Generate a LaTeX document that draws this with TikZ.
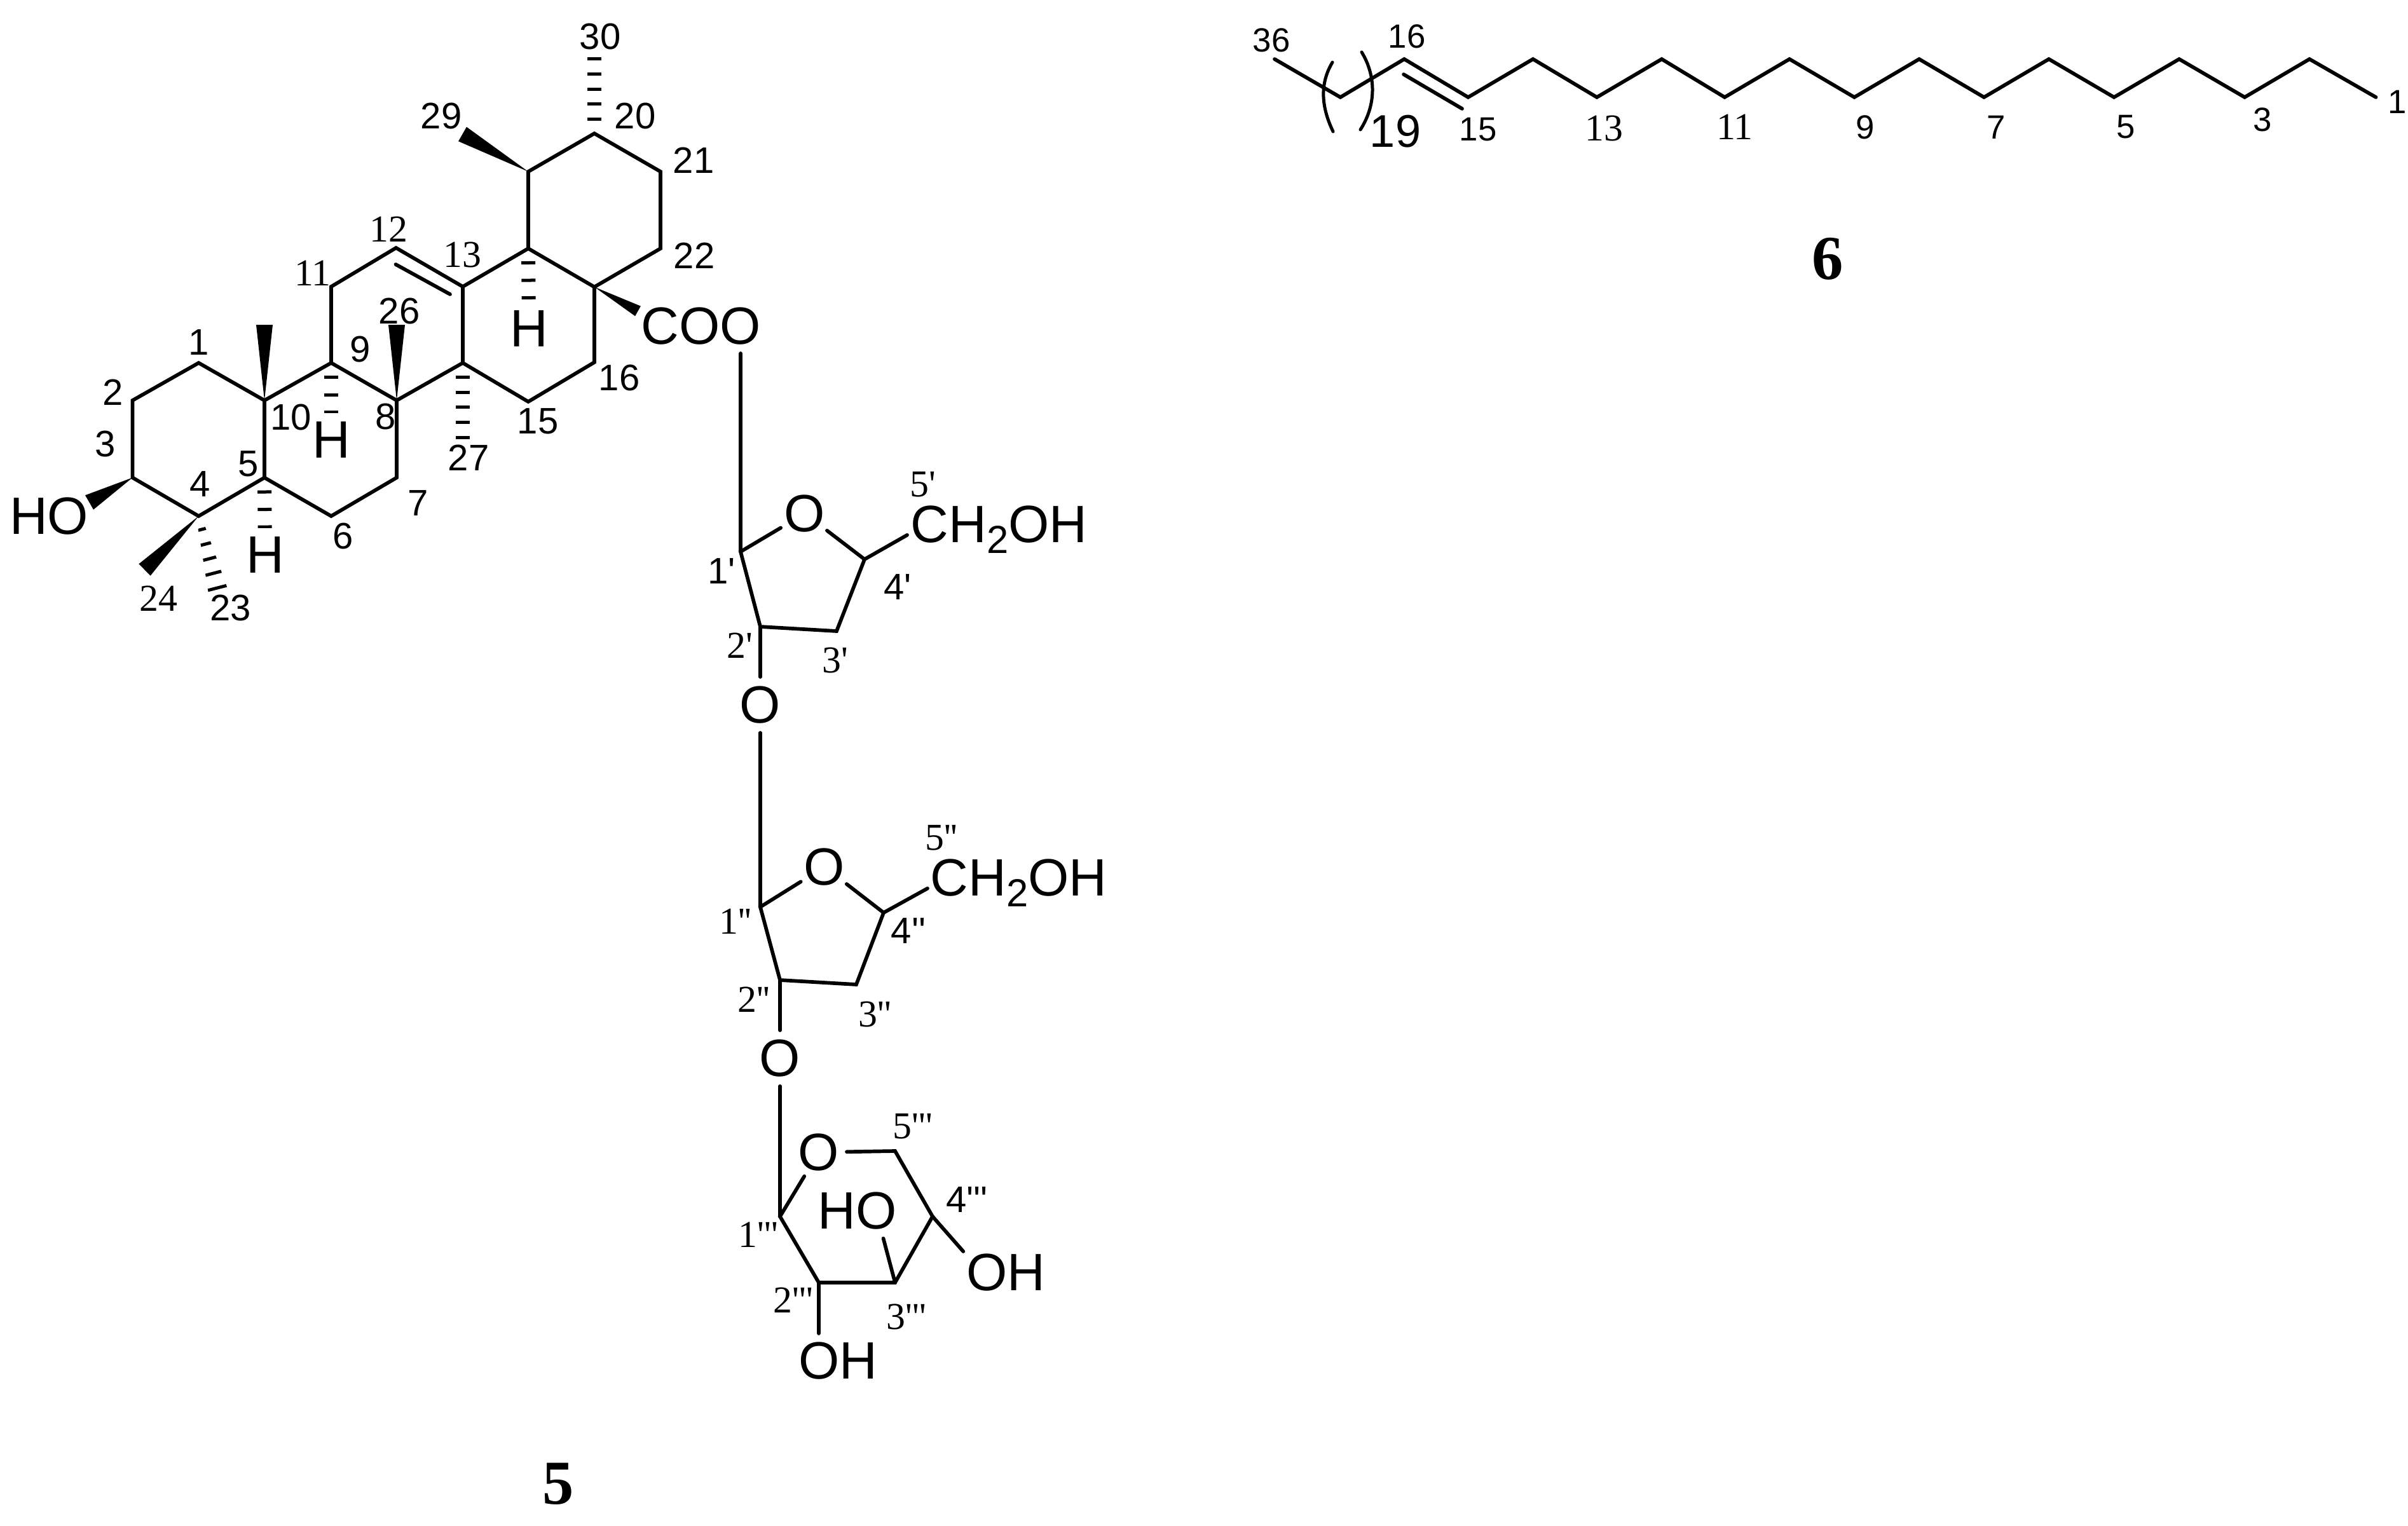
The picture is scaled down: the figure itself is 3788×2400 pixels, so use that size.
\documentclass[tikz,border=0pt]{standalone}
\usepackage{fontspec}
\setmainfont{Liberation Sans}
\newfontfamily\timesnum{Liberation Serif}
\usetikzlibrary{calc}
\newcommand{\prm}{\textquotesingle}
\newcommand{\subtwo}{\raisebox{-.21em}{\fontsize{17.5pt}{17.5pt}\selectfont 2}}

\begin{document}
\begin{tikzpicture}[x=.01cm,y=-.01cm,
    bond/.style={line width=.057cm,line cap=round},
    hashbond/.style={line width=.22cm,dash pattern=on .05cm off #1,shorten <=.2cm},
    wedgebond/.style={fill=black,draw=none,to path={
      -- ($(\tikztotarget)!#1!90:(\tikztostart)$)
      -- ($(\tikztotarget)!#1!-90:(\tikztostart)$) -- cycle}},
    wedgebond/.default=.13cm,
    ringO/.style={circle,minimum size=.84cm,inner sep=0pt,font=\fontsize{23.5pt}{23.5pt}\selectfont},
    atomlab/.style={inner sep=.13cm,font=\fontsize{23.5pt}{23.5pt}\selectfont},
    sidechain/.style={inner sep=0pt,anchor=base west,font=\fontsize{23.5pt}{23.5pt}\selectfont},
    numsans/.style={inner sep=0pt,font=\fontsize{16.5pt}{16.5pt}\selectfont},
    numserif/.style={inner sep=0pt,font=\timesnum\fontsize{17pt}{17pt}\selectfont},
    chainsans/.style={inner sep=0pt,font=\fontsize{15pt}{15pt}\selectfont},
    title/.style={inner sep=0pt,font=\timesnum\bfseries\fontsize{28pt}{28pt}\selectfont}]

\useasboundingbox (0,0) rectangle (3788,2400);

% triterpene skeleton
\coordinate (c1) at (312.5,571);
\coordinate (c2) at (208.5,630);
\coordinate (c3) at (208.5,751.5);
\coordinate (c4) at (312.5,812);
\coordinate (c5) at (416,751.5);
\coordinate (c6) at (521,812);
\coordinate (c7) at (624,751.5);
\coordinate (c8) at (624,630);
\coordinate (c9) at (521,571);
\coordinate (c10) at (416,630);
\coordinate (c11) at (521,451);
\coordinate (c12) at (623,390);
\coordinate (c13) at (728,451);
\coordinate (c14) at (728,571);
\coordinate (c15) at (831,632);
\coordinate (c16) at (935,570);
\coordinate (c17) at (935,451.5);
\coordinate (c18) at (831,391);
\coordinate (c19) at (831,270);
\coordinate (c20) at (935,210);
\coordinate (c21) at (1039,270);
\coordinate (c22) at (1039,391);
\coordinate (dba) at (622.5,416);
\coordinate (dbb) at (708,463);

\coordinate (m23) at (343.5,932);
\coordinate (a23) at ($(c4)!-.34!(m23)$);
\coordinate (m24) at (227.5,896.5);
\coordinate (m25) at (416,511);
\coordinate (m26) at (624,511);
\coordinate (m27) at (728,692);
\coordinate (m29) at (727.5,211);
\coordinate (m30) at (935,90);
\coordinate (mho) at (140.5,790.5);
\coordinate (mco) at (1003.5,489.5);

\draw[bond] (c1) -- (c2) -- (c3) -- (c4) -- (c5) -- (c10) -- cycle;
\draw[bond] (c5) -- (c6) -- (c7) -- (c8) -- (c9) -- (c10);
\draw[bond] (c9) -- (c11) -- (c12) -- (c13) -- (c14) -- (c8);
\draw[bond] (c13) -- (c18) -- (c17) -- (c16) -- (c15) -- (c14);
\draw[bond] (c18) -- (c19) -- (c20) -- (c21) -- (c22) -- (c17);
\draw[bond] (dba) -- (dbb);

\draw[wedgebond] (c3) to (mho);
\draw[wedgebond] (c4) to (m24);
\draw[wedgebond] (c10) to (m25);
\draw[wedgebond] (c8) to (m26);
\draw[wedgebond] (c19) to (m29);
\draw[wedgebond=.09cm] (c17) to (mco);

\node[atomlab] (ho) at (77,812.5) {HO};
\node[atomlab] (h5) at (417,873) {H};
\node[atomlab] (h9) at (521,692) {H};
\node[atomlab] (h18) at (832,517) {H};
\node[atomlab] (coo) at (1103,513) {COO};

\draw[hashbond=.225cm] (c5) -- (h5);
\draw[hashbond=.225cm] (c9) -- (h9);
\draw[hashbond=.225cm] (c18) -- (h18);
\draw[hashbond=.187cm] (c14) -- (m27);
\draw[hashbond=.187cm] (c20) -- (m30);

\begin{scope}
\clip (a23) -- ($(m23)!.157cm!90:(c4)$) -- ($(m23)!.157cm!-90:(c4)$) -- cycle;
\draw[line width=.32cm,dash pattern=on .05cm off .188cm,shorten <=.19cm] (c4) -- (m23);
\end{scope}

\node[numsans] (l1) at (313,539) {1};
\node[numsans] (l2) at (178,617) {2};
\node[numsans] (l3) at (166,699) {3};
\node[numsans] (l4) at (315,762) {4};
\node[numsans] (l5) at (391,730) {5};
\node[numsans] (l6) at (540,844) {6};
\node[numsans] (l7) at (658,792) {7};
\node[numsans] (l8) at (607,656) {8};
\node[numsans] (l9) at (567,550) {9};
\node[numsans] (l10) at (458,657) {10};
\node[numserif] (l11) at (492,430) {11};
\node[numserif] (l12) at (611,361) {12};
\node[numserif] (l13) at (727,400.5) {13};
\node[numsans] (l15) at (846,663) {15};
\node[numsans] (l16) at (974,595) {16};
\node[numsans] (l20) at (999,183) {20};
\node[numsans] (l21) at (1091,252.5) {21};
\node[numsans] (l22) at (1092,402) {22};
\node[numsans] (l23) at (363,957) {23};
\node[numserif] (l24) at (249,942) {24};
\node[numsans] (l26) at (628,490) {26};
\node[numsans] (l27) at (737,720) {27};
\node[numsans] (l29) at (694,183) {29};
\node[numsans] (l30) at (944,58) {30};

% sugar chain
\coordinate (c1a) at (1165,868);
\coordinate (c2a) at (1196,986);
\coordinate (c3a) at (1316,993);
\coordinate (c4a) at (1360,880);
\coordinate (c1b) at (1196,1427);
\coordinate (c2b) at (1227,1542);
\coordinate (c3b) at (1347,1549);
\coordinate (c4b) at (1390,1436);
\coordinate (c1c) at (1227,1914);
\coordinate (c2c) at (1288,2018);
\coordinate (c3c) at (1408,2018);
\coordinate (c4c) at (1467,1914);
\coordinate (c5c) at (1408,1811);

\node[ringO] (oa) at (1266,808) {O};
\node[ringO] (ob) at (1196,1109) {O};
\node[ringO] (oc) at (1297,1364) {O};
\node[ringO] (od) at (1227,1665) {O};
\node[ringO] (oe) at (1288,1813) {O};

\node[sidechain] (cha) at (1432,853) {CH\subtwo OH};
\node[sidechain] (chb) at (1463,1409) {CH\subtwo OH};
\node[atomlab] (ohb) at (1318,2141) {OH};
\node[atomlab] (ohc) at (1348.5,1905.5) {HO};
\node[atomlab] (ohd) at (1582,2002) {OH};

\draw[bond] ([xshift=.62cm]coo.south) -- (c1a);
\draw[bond] (oa) -- (c1a) -- (c2a) -- (c3a) -- (c4a) -- (oa);
\draw[bond] (c4a) -- ([xshift=-.05cm,yshift=-.09cm]cha.west);
\draw[bond] (c2a) -- (ob);
\draw[bond] (ob) -- (c1b);
\draw[bond] (oc) -- (c1b) -- (c2b) -- (c3b) -- (c4b) -- (oc);
\draw[bond] (c4b) -- ([xshift=-.04cm,yshift=-.09cm]chb.west);
\draw[bond] (c2b) -- (od);
\draw[bond] (od) -- (c1c);
\draw[bond] (oe) -- (c1c) -- (c2c) -- (c3c) -- (c4c) -- (c5c) -- (oe);
\draw[bond] (c2c) -- ([xshift=-.3cm]ohb.north);
\draw[bond] (c3c) -- ([xshift=.41cm]ohc.south);
\draw[bond] (c4c) -- ([xshift=.09cm,yshift=.33cm]ohd.west);

\node[numsans] (l1a) at (1135,899) {1\prm};
\node[numserif] (l2a) at (1164,1016) {2\prm};
\node[numserif] (l3a) at (1314,1039) {3\prm};
\node[numsans] (l4a) at (1412,924) {4\prm};
\node[numserif] (l5a) at (1451.5,762) {5\prm};
\node[numserif] (l1b) at (1157,1450) {1\prm\prm};
\node[numserif] (l2b) at (1186,1573) {2\prm\prm};
\node[numserif] (l3b) at (1376.5,1596) {3\prm\prm};
\node[numsans] (l4b) at (1429,1465) {4\prm\prm};
\node[numserif] (l5b) at (1481,1318) {5\prm\prm};
\node[numserif] (l1c) at (1193,1943) {1\prm\prm\prm};
\node[numserif] (l2c) at (1248,2046) {2\prm\prm\prm};
\node[numserif] (l3c) at (1426,2072) {3\prm\prm\prm};
\node[numsans] (l4c) at (1521,1888) {4\prm\prm\prm};
\node[numserif] (l5c) at (1436,1772) {5\prm\prm\prm};

\node[title] (five) at (878,2335) {5};

% fatty chain
\coordinate (s1) at (3737.5,153);
\coordinate (s2) at (3633,93);
\coordinate (s3) at (3531,153);
\coordinate (s4) at (3428,93);
\coordinate (s5) at (3325.5,153);
\coordinate (s6) at (3223,93);
\coordinate (s7) at (3121,153);
\coordinate (s8) at (3019,93);
\coordinate (s9) at (2917,153);
\coordinate (s10) at (2815,93);
\coordinate (s11) at (2713,153);
\coordinate (s12) at (2614,93);
\coordinate (s13) at (2512,153);
\coordinate (s14) at (2411.5,93);
\coordinate (s15) at (2309.5,153);
\coordinate (s16) at (2209,93);
\coordinate (srep) at (2108.5,153);
\coordinate (s36) at (2005,93);
\coordinate (dbc) at (2208,117);
\coordinate (dbd) at (2300,171);

\draw[bond] (s1) -- (s2) -- (s3) -- (s4) -- (s5) -- (s6) -- (s7) -- (s8) -- (s9) -- (s10) -- (s11) -- (s12) -- (s13) -- (s14) -- (s15) -- (s16) -- (srep) -- (s36);
\draw[bond] (dbc) -- (dbd);

\coordinate (bla) at (2096,98);
\coordinate (blb) at (2097,207);
\coordinate (bra) at (2142,82);
\coordinate (brb) at (2140,204);
\draw[bond,line width=.05cm] (bla) .. controls (2077,130) and (2077,165) .. (blb);
\draw[bond,line width=.05cm] (bra) .. controls (2165,120) and (2165,165) .. (brb);

\node[chainsans] (n36) at (2000,63) {36};
\node[chainsans] (n16) at (2213,57) {16};
\node[inner sep=0pt,font=\fontsize{20.5pt}{20.5pt}\selectfont] (n19) at (2195,207) {19};
\node[chainsans] (n15) at (2325,204) {15};
\node[numserif] (n13) at (2523,202) {13};
\node[numserif] (n11) at (2729,200) {11};
\node[chainsans] (n9) at (2934,200) {9};
\node[chainsans] (n7) at (3140,200) {7};
\node[chainsans] (n5) at (3344,200) {5};
\node[chainsans] (n3) at (3559,188) {3};
\node[chainsans] (n1) at (3771,160) {1};

\node[title] (six) at (2875,407) {6};

\end{tikzpicture}
\end{document}
